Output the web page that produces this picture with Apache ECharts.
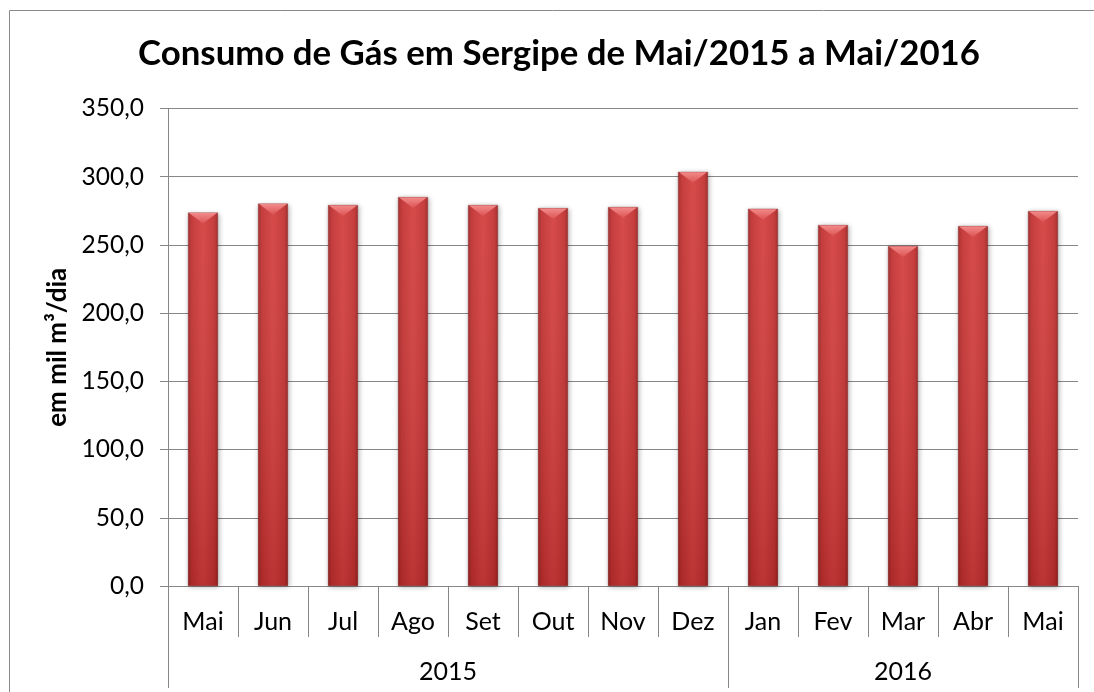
<!DOCTYPE html>
<html>
<head>
<meta charset="utf-8">
<script src="https://cdn.jsdelivr.net/npm/echarts@6/dist/echarts.min.js"></script>
<style>
html,body{margin:0;padding:0;background:#fff;}
#main{width:1094px;height:692px;}
</style>
</head>
<body>
<div id="main"></div>
<script>
var titleText = 'Consumo de Gás em Sergipe de Mai/2015 a Mai/2016';
var yAxisName = 'em mil m³/dia';
var months = ['Mai','Jun','Jul','Ago','Set','Out','Nov','Dez','Jan','Fev','Mar','Abr','Mai'];
var values = [273.7, 280.3, 279.3, 285.1, 279.3, 277.0, 277.8, 303.6, 276.6, 264.6, 249.3, 263.9, 274.9];
var years = ['2015','2016'];
var yearSpans = [8, 5];
var yTicks = {min: 0, max: 350, interval: 50};

var FONT = 'Lato';
var BAR_W = 30;

// year group boundaries and centers (in category units)
var yearBounds = [0];
var yearCenters = [];
var acc = 0;
for (var i = 0; i < yearSpans.length; i++) {
  yearCenters.push(acc + yearSpans[i] / 2);
  acc += yearSpans[i];
  yearBounds.push(acc);
}

var chart = echarts.init(document.getElementById('main'), null, {renderer: 'canvas'});

var option = {
  animation: false,
  backgroundColor: '#fff',
  grid: {left: 168, right: 16, top: 108.5, bottom: 106, containLabel: false},
  graphic: [
    {type: 'rect', shape: {x: 9.5, y: 10.5, width: 1110, height: 720},
     style: {fill: 'none', stroke: '#8a8a8a', lineWidth: 1}, silent: true, z: -10},
    {type: 'text', x: 559, y: 54, style: {text: titleText, font: 'bold 34.8px ' + FONT,
     fill: '#000', align: 'center', verticalAlign: 'middle'}}
  ],
  xAxis: [
    {
      type: 'category', data: months, boundaryGap: true, position: 'bottom',
      axisLine: {show: true, lineStyle: {color: '#878787', width: 1}},
      axisTick: {show: true, interval: 0, length: 51, lineStyle: {color: '#878787'}},
      axisLabel: {interval: 0, margin: 23, fontFamily: FONT, fontSize: 25, color: '#000'},
      splitLine: {show: false}
    },
    {
      type: 'value', min: 0, max: months.length, position: 'bottom', gridIndex: 0,
      axisLine: {show: false},
      axisTick: {show: true, customValues: yearBounds, length: 102, lineStyle: {color: '#878787'}},
      axisLabel: {customValues: yearCenters, margin: 73, fontFamily: FONT, fontSize: 25, color: '#000',
        formatter: function (v) {
          for (var k = 0; k < yearCenters.length; k++) { if (Math.abs(yearCenters[k] - v) < 1e-6) return years[k]; }
          return '';
        }},
      splitLine: {show: false}
    }
  ],
  yAxis: {
    type: 'value', min: yTicks.min, max: yTicks.max, interval: yTicks.interval,
    name: yAxisName, nameLocation: 'middle', nameGap: 94, nameRotate: 90,
    nameTextStyle: {fontFamily: FONT, fontSize: 26, fontWeight: 'bold', color: '#000'},
    axisLine: {show: true, lineStyle: {color: '#878787'}},
    axisTick: {show: true, length: 8, lineStyle: {color: '#878787'}},
    axisLabel: {fontFamily: FONT, fontSize: 24.5, color: '#000', margin: 24,
      formatter: function (v) { return v.toFixed(1).replace('.', ','); }},
    splitLine: {show: true, lineStyle: {color: '#878787', width: 1}}
  },
  series: [
    {
      type: 'bar', xAxisIndex: 0, data: values, barWidth: BAR_W,
      itemStyle: {
        color: new echarts.graphic.LinearGradient(0, 0, 1, 0, [
          {offset: 0, color: '#9e2424'},
          {offset: 0.12, color: '#c23232'},
          {offset: 0.5, color: '#d43f3f'},
          {offset: 0.88, color: '#c23232'},
          {offset: 1, color: '#9a2222'}
        ]),
        borderColor: 'rgba(120,20,20,0.6)', borderWidth: 0.5,
        shadowBlur: 5, shadowColor: 'rgba(0,0,0,0.3)', shadowOffsetX: 1, shadowOffsetY: 1
      },
      z: 2
    },
    {
      type: 'custom', xAxisIndex: 0, data: values.map(function (v, i) { return [i, v]; }),
      z: 3, silent: true,
      renderItem: function (params, api) {
        var top = api.coord([api.value(0), api.value(1)]);
        var base = api.coord([api.value(0), 0]);
        var hw = BAR_W / 2;
        var x = top[0], y = top[1];
        return {
          type: 'group',
          children: [
            {type: 'rect', shape: {x: x - hw, y: y, width: BAR_W, height: base[1] - y},
             style: {fill: new echarts.graphic.LinearGradient(0, 0, 0, 1, [
               {offset: 0, color: 'rgba(255,255,255,0.06)'},
               {offset: 1, color: 'rgba(60,0,0,0.16)'}
             ])}},
            {type: 'polygon', shape: {points: [[x - hw + 1, y + 0.5], [x + hw - 1, y + 0.5], [x, y + 11]]},
             style: {fill: new echarts.graphic.LinearGradient(0, 0, 0, 1, [
               {offset: 0, color: '#f28a8a'},
               {offset: 1, color: '#dc5454'}
             ])}}
          ]
        };
      }
    }
  ]
};
chart.setOption(option);
</script>
</body>
</html>
